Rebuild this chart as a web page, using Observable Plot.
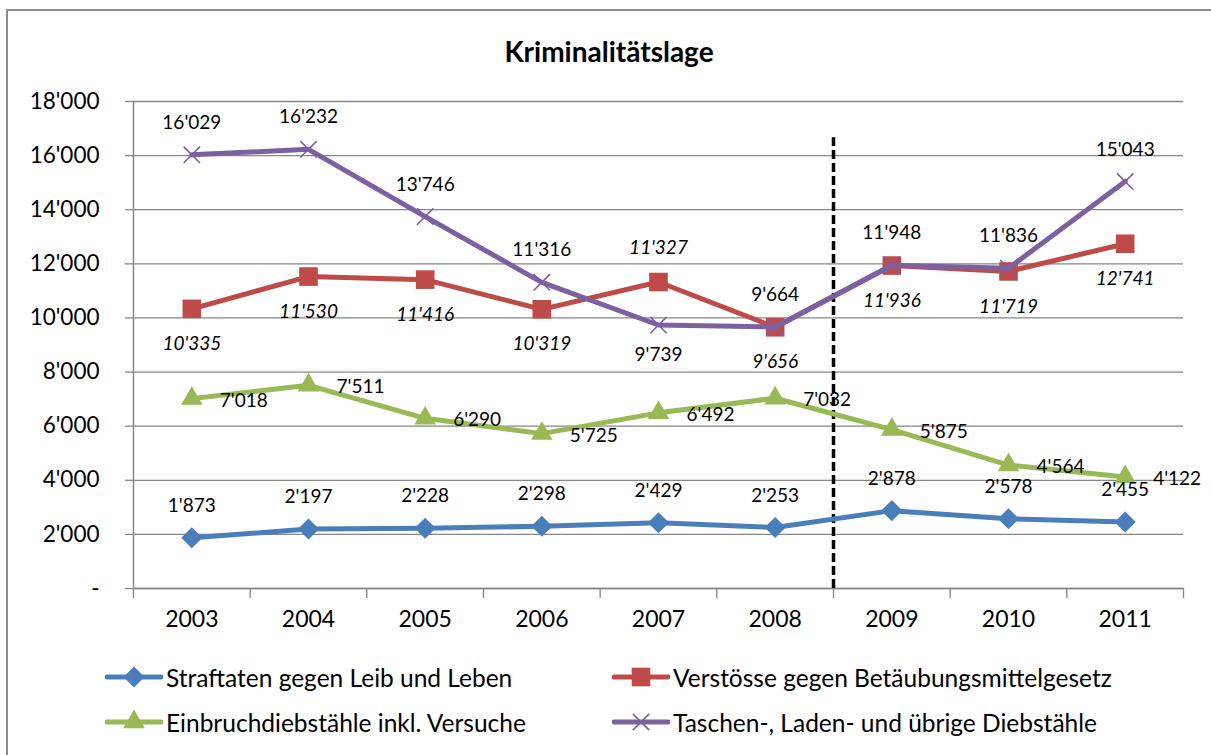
<!DOCTYPE html>
<html>
<head>
<meta charset="utf-8">
<script src="https://cdn.jsdelivr.net/npm/d3@7"></script>
<script src="https://cdn.jsdelivr.net/npm/@observablehq/plot@0.6"></script>
<style>
  html, body { margin: 0; padding: 0; overflow: hidden; background: #fff; }
  body { width: 1211px; height: 755px; position: relative; font-family: Lato, "Noto Sans", sans-serif; }
  #frame { position: absolute; left: 6px; top: 9px; width: 3000px; height: 2000px; border-left: 2px solid #8c8c8c; border-top: 2px solid #8c8c8c; box-sizing: border-box; }
  #title { position: absolute; left: 0; top: 0; width: 1218px; height: 70px; text-align: center; line-height: 102px; font-weight: bold; font-size: 28px; color: #000; }
  #chart { position: absolute; left: 0; top: 70px; }
  #legend { position: absolute; left: 0; top: 650px; width: 1211px; height: 100px; }
  .item { position: absolute; display: flex; align-items: center; font-size: 24.5px; color: #000; white-space: nowrap; }
  .item svg { display: block; margin-right: 3px; }
</style>
</head>
<body>
<div id="frame"></div>
<div id="title">Kriminalitätslage</div>
<div id="chart"></div>
<div id="legend"></div>
<script>
// ---- data ----
const years = [2003, 2004, 2005, 2006, 2007, 2008, 2009, 2010, 2011];
const seriesNames = [
  "Straftaten gegen Leib und Leben",
  "Verstösse gegen Betäubungsmittelgesetz",
  "Einbruchdiebstähle inkl. Versuche",
  "Taschen-, Laden- und übrige Diebstähle"
];
const leibUndLeben   = [1873, 2197, 2228, 2298, 2429, 2253, 2878, 2578, 2455];
const betaeubung     = [10335, 11530, 11416, 10319, 11327, 9656, 11936, 11719, 12741];
const einbruch       = [7018, 7511, 6290, 5725, 6492, 7032, 5875, 4564, 4122];
const taschenLaden   = [16029, 16232, 13746, 11316, 9739, 9664, 11948, 11836, 15043];
const yTicks = [0, 2000, 4000, 6000, 8000, 10000, 12000, 14000, 16000, 18000];
const yearBoundaries = [2002.5, 2003.5, 2004.5, 2005.5, 2006.5, 2007.5, 2008.5, 2009.5, 2010.5, 2011.5];
const dividerYear = 2008.5;      // change of statistics
const dividerTop = 17100;
const redLabelAbove = [2007];
const purpleLabelBelow = [2007];

const colors = ["#4A7EBB", "#BE4B48", "#98B954", "#7D60A0"];
const symbols = ["diamond2", "square", "triangle", "times"];
const valuesBySeries = [leibUndLeben, betaeubung, einbruch, taschenLaden];

const rows = [];
valuesBySeries.forEach((vals, i) => vals.forEach((v, j) => rows.push({series: seriesNames[i], idx: i, year: years[j], value: v})));

const loc = d3.formatLocale({decimal: ".", thousands: "'", grouping: [3], currency: ["", ""]});
const fmt = loc.format(",d");
const yFmt = d => d === 0 ? "-" : fmt(d);

const font = "Lato, 'Noto Sans', sans-serif";
const bySeries = i => rows.filter(r => r.idx === i);

const marks = [
  Plot.gridY(yTicks, {stroke: "#868686", strokeOpacity: 1, strokeWidth: 1.3}),
  Plot.axisY(yTicks, {tickFormat: yFmt, tickSize: 8, tickPadding: 26, stroke: "#868686", strokeWidth: 1.3, fontSize: 22.5, fill: "#000", label: null}),
  Plot.axisX(years, {tickFormat: d => String(d), tickSize: 0, tickPadding: 22, fontSize: 23, fill: "#000", label: null}),
  Plot.axisX(yearBoundaries, {tickFormat: () => "", tickSize: 10, stroke: "#868686", strokeWidth: 1.3, label: null}),
  Plot.ruleX([yearBoundaries[0]], {stroke: "#868686", strokeWidth: 1.5}),
  Plot.ruleY([0], {stroke: "#868686", strokeWidth: 1.5}),
  Plot.ruleX([dividerYear], {y1: 0, y2: dividerTop, stroke: "#000", strokeWidth: 3.5, strokeDasharray: "9,4", insetBottom: -12})
];

const dotR = [9.5, 10.5, 8, 7.5];
valuesBySeries.forEach((_, i) => {
  marks.push(Plot.line(bySeries(i), {x: "year", y: "value", stroke: colors[i], strokeWidth: 5, strokeLinejoin: "round"}));
  if (symbols[i] === "times") {
    marks.push(Plot.dot(bySeries(i), {x: "year", y: "value", symbol: "times", r: dotR[i], stroke: colors[i], strokeWidth: 1.6, fill: "none"}));
  } else {
    marks.push(Plot.dot(bySeries(i), {x: "year", y: "value", symbol: symbols[i], r: dotR[i], fill: colors[i], stroke: "none"}));
  }
});

const txt = {text: d => fmt(d.value), x: "year", y: "value", fill: "#000", fontSize: 19, fontFamily: font};
// blue: above
marks.push(Plot.text(bySeries(0), {...txt, dy: -32}));
// red: italic, below (except some above)
marks.push(Plot.text(bySeries(1).filter(d => !redLabelAbove.includes(d.year)), {...txt, dy: 35, fontStyle: "italic"}));
marks.push(Plot.text(bySeries(1).filter(d => redLabelAbove.includes(d.year)), {...txt, dy: -34, fontStyle: "italic"}));
// green: right
marks.push(Plot.text(bySeries(2), {...txt, dx: 28, dy: 2, textAnchor: "start"}));
// purple: above (except some below)
marks.push(Plot.text(bySeries(3).filter(d => !purpleLabelBelow.includes(d.year)), {...txt, dy: -32}));
marks.push(Plot.text(bySeries(3).filter(d => purpleLabelBelow.includes(d.year)), {...txt, dy: 30}));

const chart = Plot.plot({
  width: 1211,
  height: 575,
  marginLeft: 133,
  marginRight: 28,
  marginTop: 31,
  marginBottom: 57,
  style: {fontFamily: font, background: "transparent", overflow: "visible"},
  x: {type: "linear", domain: [2002.5, 2011.5], axis: null},
  y: {domain: [0, 18000], axis: null},
  marks
});
document.getElementById("chart").appendChild(chart);

// ---- legend ----
const legend = d3.select("#legend");
const legendPos = [[105, 27], [612, 27], [105, 72], [612, 72]];
seriesNames.forEach((name, i) => {
  const item = legend.append("div").attr("class", "item")
    .style("left", legendPos[i][0] + "px").style("top", (legendPos[i][1] - 15) + "px").style("height", "30px");
  const svg = item.append("svg").attr("width", 58).attr("height", 30);
  svg.append("line").attr("x1", 2).attr("x2", 56).attr("y1", 15).attr("y2", 15)
    .attr("stroke", colors[i]).attr("stroke-width", 5).attr("stroke-linecap", "round");
  const symMap = {diamond2: d3.symbolDiamond2, square: d3.symbolSquare, triangle: d3.symbolTriangle, times: d3.symbolTimes};
  const size = Math.PI * dotR[i] * dotR[i];
  const p = svg.append("path").attr("transform", "translate(29,15)").attr("d", d3.symbol(symMap[symbols[i]], size)());
  if (symbols[i] === "times") p.attr("fill", "none").attr("stroke", colors[i]).attr("stroke-width", 1.6);
  else p.attr("fill", colors[i]);
  item.append("span").text(name);
});
</script>
</body>
</html>
